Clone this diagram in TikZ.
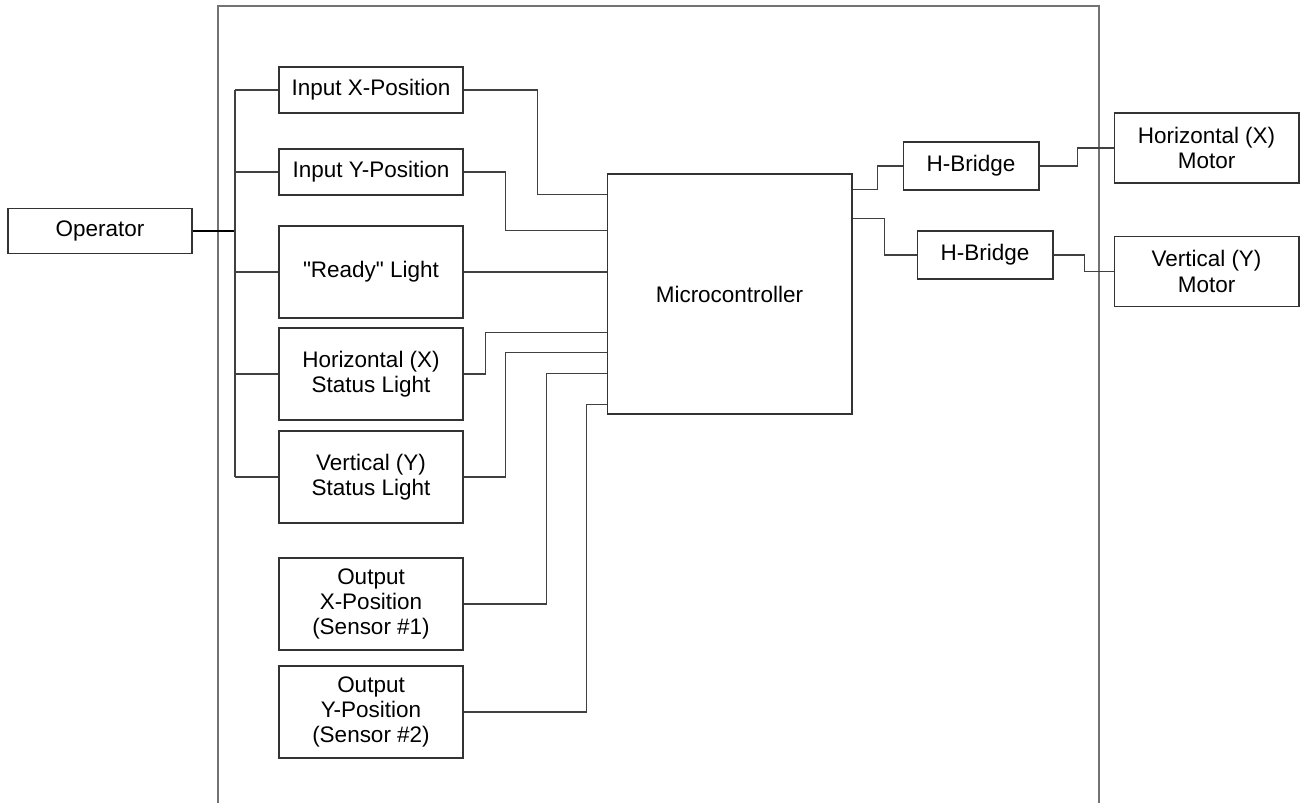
\documentclass[tikz,border=0pt]{standalone}
\usepackage{fontspec}
\setmainfont{Liberation Sans}[Ligatures=TeXOff]
\usetikzlibrary{calc}
\begin{document}
\begin{tikzpicture}[x=0.02cm,y=-0.02cm,font=\fontsize{12.8}{14.4}\selectfont,
  blk/.style={draw=black!80,line width=0.6pt,align=center,inner sep=0pt,minimum width=3.68cm},
  wire/.style={draw=black!75,line width=0.6pt}]
 \useasboundingbox (0,0) rectangle (1307,803);
 % enclosure, open at the bottom
 \draw[line width=0.8pt,black!55] (218,803) |- (1099,6) -- (1099,803);
 % blocks
 \node[blk,minimum height=.9cm] (op) at (100,231) {Operator};
 \node[blk,minimum height=.92cm] (inx) at (371,90) {Input X-Position};
 \node[blk,minimum height=.92cm] (iny) at (371,172) {Input Y-Position};
 \node[blk,minimum height=1.84cm] (rdy) at (371,272) {"Ready" Light};
 \node[blk,minimum height=1.84cm] (hsl) at (371,374) {Horizontal (X)\\Status Light};
 \node[blk,minimum height=1.84cm] (vsl) at (371,477) {Vertical (Y)\\Status Light};
 \node[blk,minimum height=1.84cm] (oxp) at (371,604) {Output\\X-Position\\(Sensor \#1)};
 \node[blk,minimum height=1.84cm] (oyp) at (371,712) {Output\\Y-Position\\(Sensor \#2)};
 \node[blk,minimum width=4.9cm,minimum height=4.8cm] (mcu) at (729.5,294) {Microcontroller};
 \node[blk,minimum width=2.72cm,minimum height=.96cm] (hb1) at (971,166) {H-Bridge};
 \node[blk,minimum width=2.72cm,minimum height=.96cm] (hb2) at (985,255) {H-Bridge};
 \node[blk,minimum width=3.7cm,minimum height=1.4cm] (hmo) at (1206.5,148) {Horizontal (X)\\Motor};
 \node[blk,minimum width=3.7cm,minimum height=1.4cm] (vmo) at (1206.5,271.5) {Vertical (Y)\\Motor};
 % operator bus
 \coordinate (busx) at (235,0);
 \draw[wire,line width=1pt,black] (op.east) -- (op.east -| busx);
 \draw[wire] (inx.west -| busx) -- (vsl.west -| busx);
 \foreach \b in {inx,iny,rdy,hsl,vsl}
   \draw[wire] (\b.west -| busx) -- (\b.west);
 % into the microcontroller
 \draw[wire] (inx.east) -- ++(74,0) |- ($(mcu.north west)+(0,21)$);
 \draw[wire] (iny.east) -- ++(42,0) |- ($(mcu.north west)+(0,57)$);
 \draw[wire] (rdy.east) -- (rdy.east -| mcu.west);
 \draw[wire] (hsl.east) -- ++(22,0) |- ($(mcu.north west)+(0,159)$);
 \draw[wire] (vsl.east) -- ++(42,0) |- ($(mcu.north west)+(0,179)$);
 \draw[wire] (oxp.east) -- ++(83,0) |- ($(mcu.north west)+(0,200)$);
 \draw[wire] (oyp.east) -- ++(123,0) |- ($(mcu.north west)+(0,231)$);
 % outputs
 \draw[wire] ($(mcu.north east)+(0,16)$) -- ++(25,0) |- (hb1.west);
 \draw[wire] ($(mcu.north east)+(0,45)$) -- ++(32,0) |- (hb2.west);
 \draw[wire] (hb1.east) -- ++(38,0) |- (hmo.west);
 \draw[wire] (hb2.east) -- ++(31,0) |- (vmo.west);
\end{tikzpicture}
\end{document}
